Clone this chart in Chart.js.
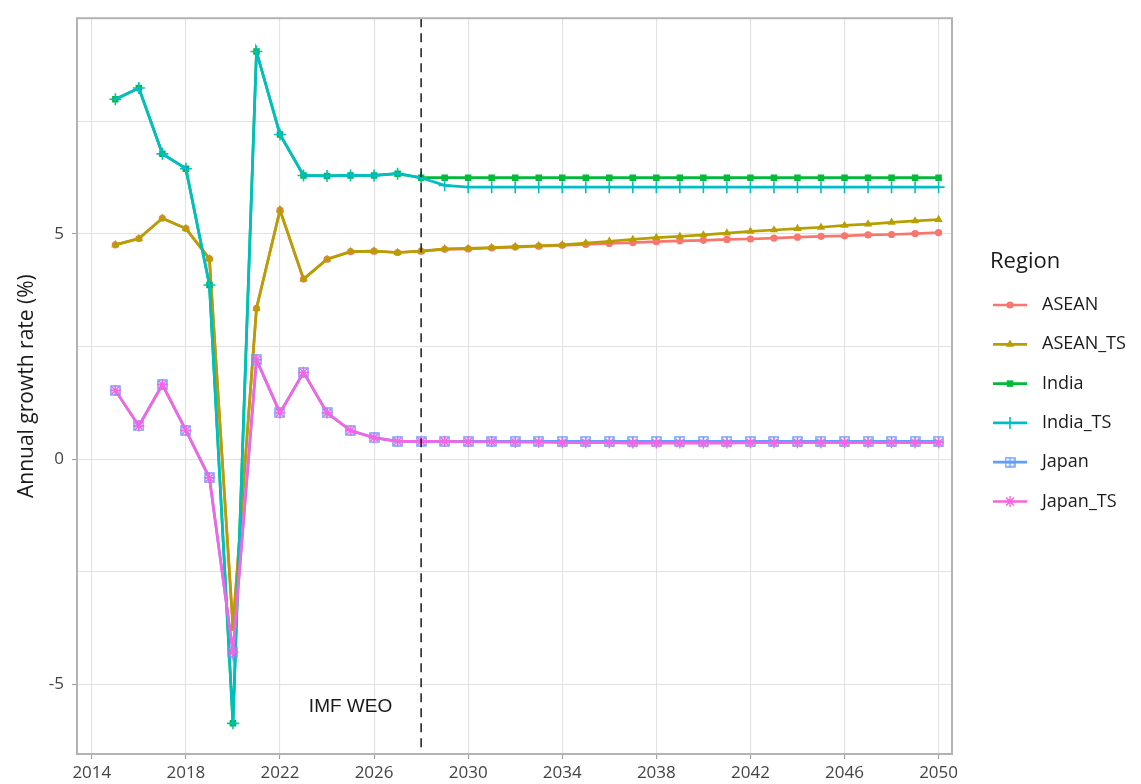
<!DOCTYPE html>
<html>
<head>
<meta charset="utf-8">
<script src="https://cdn.jsdelivr.net/npm/chart.js@4/dist/chart.umd.min.js"></script>
<style>
  html, body { margin: 0; padding: 0; background: #fff; }
  #wrap { width: 1141px; height: 784px; position: relative; }
</style>
</head>
<body>
<div id="wrap"><canvas id="myChart"></canvas></div>
<script>
// years on the x axis
const years = [2015, 2016, 2017, 2018, 2019, 2020, 2021, 2022, 2023, 2024, 2025, 2026,
  2027, 2028, 2029, 2030, 2031, 2032, 2033, 2034, 2035, 2036, 2037, 2038, 2039, 2040,
  2041, 2042, 2043, 2044, 2045, 2046, 2047, 2048, 2049, 2050];

// annual growth rate (%) per region
const asean = [4.76, 4.90, 5.35, 5.12, 4.45, -3.73, 3.35, 5.53, 4.00, 4.44, 4.61, 4.62,
  4.59, 4.62, 4.66, 4.67, 4.69, 4.71, 4.73, 4.75, 4.77, 4.79, 4.81, 4.83, 4.85, 4.86,
  4.88, 4.89, 4.91, 4.93, 4.95, 4.96, 4.98, 4.99, 5.01, 5.03];
const aseanTS = [4.76, 4.90, 5.35, 5.12, 4.45, -3.73, 3.35, 5.53, 4.00, 4.44, 4.61, 4.62,
  4.59, 4.62, 4.67, 4.68, 4.70, 4.72, 4.74, 4.76, 4.80, 4.84, 4.88, 4.92, 4.95, 4.98,
  5.02, 5.06, 5.09, 5.12, 5.15, 5.19, 5.22, 5.26, 5.29, 5.32];
const india = [7.99, 8.24, 6.78, 6.45, 3.87, -5.86, 9.05, 7.21, 6.30, 6.29, 6.30, 6.30,
  6.34, 6.25, 6.25, 6.25, 6.25, 6.25, 6.25, 6.25, 6.25, 6.25, 6.25, 6.25, 6.25, 6.25,
  6.25, 6.25, 6.25, 6.25, 6.25, 6.25, 6.25, 6.25, 6.25, 6.25];
const indiaTS = [7.99, 8.24, 6.78, 6.45, 3.87, -5.86, 9.05, 7.21, 6.30, 6.29, 6.30, 6.30,
  6.34, 6.25, 6.08, 6.04, 6.04, 6.04, 6.04, 6.04, 6.04, 6.04, 6.04, 6.04, 6.04, 6.04,
  6.04, 6.04, 6.04, 6.04, 6.04, 6.04, 6.04, 6.04, 6.04, 6.04];
const japan = [1.53, 0.74, 1.66, 0.64, -0.41, -4.28, 2.21, 1.03, 1.93, 1.03, 0.64, 0.48,
  0.40, 0.40, 0.40, 0.40, 0.40, 0.40, 0.40, 0.40, 0.40, 0.40, 0.40, 0.40, 0.40, 0.40,
  0.40, 0.40, 0.40, 0.40, 0.40, 0.40, 0.40, 0.40, 0.40, 0.40];
const japanTS = [1.53, 0.74, 1.66, 0.64, -0.41, -4.28, 2.21, 1.03, 1.93, 1.03, 0.64, 0.48,
  0.40, 0.40, 0.40, 0.39, 0.39, 0.38, 0.38, 0.37, 0.37, 0.37, 0.36, 0.36, 0.36, 0.36,
  0.36, 0.37, 0.37, 0.37, 0.37, 0.37, 0.37, 0.37, 0.37, 0.37];

const regions = ['ASEAN', 'ASEAN_TS', 'India', 'India_TS', 'Japan', 'Japan_TS'];
const series = [asean, aseanTS, india, indiaTS, japan, japanTS];

// tick labels
const xTicks = [2014, 2018, 2022, 2026, 2030, 2034, 2038, 2042, 2046, 2050];
const yTicks = [-5, -2.5, 0, 2.5, 5, 7.5];

// IMF WEO cut-off
const weoYear = 2028;
const weoLabel = 'IMF WEO';
const weoLabelAt = [2025, -5.5];

const colors = ['#F8766D', '#B79F00', '#00BA38', '#00BFC4', '#619CFF', '#F564E3'];

// square with a plus inside (ggplot shape 12) for Japan
function boxPlus(color) {
  const c = document.createElement('canvas');
  c.width = 11; c.height = 11;
  const g = c.getContext('2d');
  g.strokeStyle = color;
  g.lineWidth = 1.4;
  g.strokeRect(1, 1, 9, 9);
  g.beginPath();
  g.moveTo(5.5, 1); g.lineTo(5.5, 10);
  g.moveTo(1, 5.5); g.lineTo(10, 5.5);
  g.stroke();
  return c;
}

const markers = [
  { pointStyle: 'circle', radius: 3.6, borderWidth: 0 },
  { pointStyle: 'triangle', radius: 4.8, borderWidth: 0 },
  { pointStyle: 'rect', radius: 4.6, borderWidth: 0 },
  { pointStyle: 'cross', radius: 6, borderWidth: 1.6 },
  { pointStyle: boxPlus(colors[4]), radius: 5, borderWidth: 0 },
  { pointStyle: 'star', radius: 5.5, borderWidth: 1.4 }
];

Chart.defaults.font.family = '"Open Sans", "Noto Sans", sans-serif';

const datasets = regions.map((name, i) => ({
  label: name,
  data: years.map((yr, j) => ({ x: yr, y: series[i][j] })),
  borderColor: colors[i],
  backgroundColor: colors[i],
  borderWidth: 2.7,
  pointStyle: markers[i].pointStyle,
  pointRadius: markers[i].radius,
  pointBorderWidth: markers[i].borderWidth,
  pointBackgroundColor: colors[i],
  pointBorderColor: colors[i],
  order: regions.length - i, // later groups drawn on top, like ggplot
  tension: 0
}));

// dashed cut-off line, annotation text, panel border and legend
const extras = {
  id: 'extras',
  afterDatasetsDraw(chart) {
    const { ctx, chartArea: a, scales: { x, y } } = chart;
    ctx.save();
    // vline
    const vx = x.getPixelForValue(weoYear);
    ctx.strokeStyle = '#1a1a1a';
    ctx.lineWidth = 1.5;
    ctx.setLineDash([9, 6]);
    ctx.beginPath();
    ctx.moveTo(vx, a.top);
    ctx.lineTo(vx, a.bottom);
    ctx.stroke();
    ctx.setLineDash([]);
    // label
    ctx.fillStyle = '#1a1a1a';
    ctx.font = '19px "Liberation Sans", Arial, sans-serif';
    ctx.textAlign = 'center';
    ctx.textBaseline = 'middle';
    ctx.fillText(weoLabel, x.getPixelForValue(weoLabelAt[0]), y.getPixelForValue(weoLabelAt[1]));
    // panel border
    ctx.strokeStyle = '#b3b3b3';
    ctx.lineWidth = 2;
    ctx.strokeRect(a.left, a.top, a.right - a.left, a.bottom - a.top);
    ctx.restore();
  },
  afterDraw(chart) {
    const ctx = chart.ctx;
    ctx.save();
    ctx.fillStyle = '#1a1a1a';
    ctx.textAlign = 'left';
    ctx.textBaseline = 'middle';
    ctx.font = '22px "Open Sans", sans-serif';
    ctx.fillText('Region', 990, 262);
    ctx.font = '18px "Open Sans", sans-serif';
    regions.forEach((name, i) => {
      const ly = 305 + i * 39.3;
      ctx.strokeStyle = colors[i];
      ctx.fillStyle = colors[i];
      ctx.lineWidth = 2.7;
      ctx.beginPath();
      ctx.moveTo(993, ly);
      ctx.lineTo(1027, ly);
      ctx.stroke();
      ctx.lineWidth = markers[i].borderWidth || 1;
      Chart.helpers.drawPoint(ctx, {
        pointStyle: markers[i].pointStyle,
        radius: markers[i].radius,
        rotation: 0,
        borderWidth: markers[i].borderWidth
      }, 1010, ly);
      ctx.fillStyle = '#1a1a1a';
      ctx.fillText(name, 1042, ly);
    });
    ctx.restore();
  }
};

const chart = new Chart(document.getElementById('myChart'), {
  type: 'line',
  data: { datasets },
  plugins: [extras],
  options: {
    responsive: true,
    maintainAspectRatio: false,
    animation: false,
    layout: { padding: { left: 0, top: 16, right: 189, bottom: 0 } },
    plugins: { legend: { display: false }, tooltip: { enabled: false } },
    scales: {
      x: {
        type: 'linear',
        min: 2013.37,
        max: 2050.57,
        afterBuildTicks: (s) => { s.ticks = xTicks.map(v => ({ value: v })); },
        afterFit: (s) => { s.height = 30; },
        grid: { color: '#e2e2e2', lineWidth: 1.1, tickLength: 5, tickColor: '#a0a0a0' },
        border: { display: false },
        ticks: {
          color: '#444444',
          font: { size: 17 },
          padding: 4,
          maxRotation: 0,
          callback: (v) => String(v)
        }
      },
      y: {
        min: -6.54,
        max: 9.79,
        afterBuildTicks: (s) => { s.ticks = yTicks.map(v => ({ value: v })); },
        afterFit: (s) => { s.width = 77; },
        grid: {
          color: '#e2e2e2',
          lineWidth: 1.1,
          tickLength: 5,
          tickColor: (c) => (c.tick && c.tick.value % 5 === 0 ? '#a0a0a0' : 'rgba(0,0,0,0)')
        },
        border: { display: false },
        ticks: {
          color: '#444444',
          font: { size: 17 },
          padding: 8,
          callback: (v) => (v % 5 === 0 ? String(v) : '')
        },
        title: {
          display: true,
          text: 'Annual growth rate (%)',
          color: '#1a1a1a',
          font: { size: 21 },
          padding: { top: 14, bottom: 0 }
        }
      }
    }
  }
});
</script>
</body>
</html>
